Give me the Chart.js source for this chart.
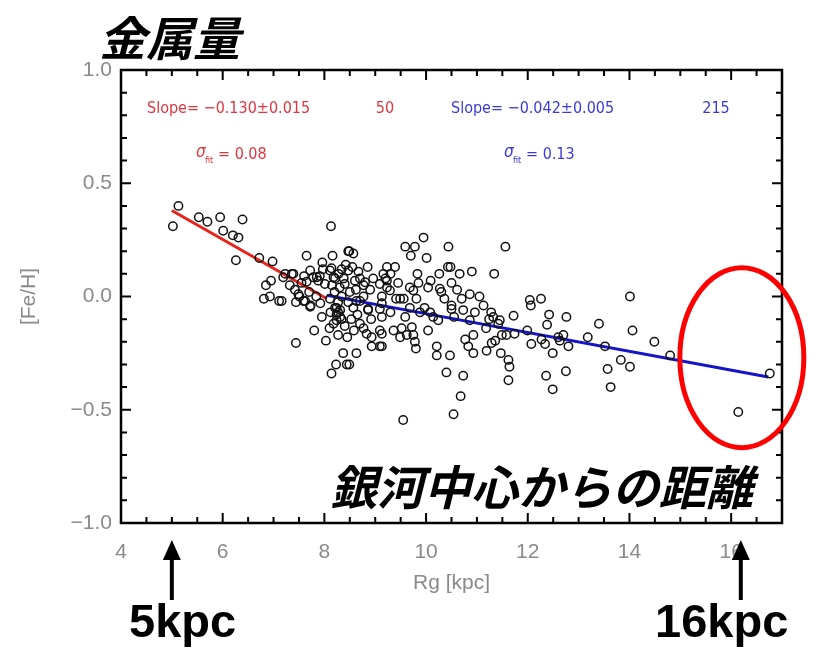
<!DOCTYPE html>
<html><head><meta charset="utf-8">
<script src="https://cdn.jsdelivr.net/npm/chart.js@4"></script>
<style>html,body{margin:0;padding:0;background:#fff}canvas{display:block}</style>
</head><body>
<canvas id="c" width="816" height="651"></canvas>
<script>
// ---- data ----
const rgInner = [5.02,5.13,5.53,5.70,5.95,6.39,6.01,6.20,6.31,6.26,6.72,6.98,7.23,7.19,6.95,6.85,6.81,6.93,7.11,7.36,7.42,7.32,7.51,7.44,7.62,7.72,7.65,7.44,7.80,7.95,7.96,7.72,7.78,7.88,7.91,7.39,7.65,7.85,8.01,7.49,7.59,7.73,7.16,8.03,7.97,7.55,7.70,7.84,7.92,7.60];
const feInner = [0.31,0.40,0.35,0.33,0.35,0.34,0.29,0.27,0.26,0.16,0.17,0.155,0.10,0.085,0.07,0.05,-0.01,0.0,-0.02,0.10,0.03,0.05,0.0,-0.025,-0.02,-0.045,0.18,-0.205,-0.15,-0.09,0.15,0.115,0.085,0.07,0.09,0.10,0.065,0.085,0.055,0.01,-0.02,-0.04,-0.02,-0.195,0.12,0.06,0.02,0.0,-0.03,0.09];

const rgOuter = [8.13,8.16,8.47,8.49,8.57,8.11,8.14,8.18,8.34,8.47,8.67,8.21,8.40,8.60,8.77,8.96,8.70,8.80,8.90,8.77,8.63,8.57,8.86,8.50,8.70,8.86,8.11,8.27,8.21,8.31,8.24,8.34,8.53,8.24,8.27,8.31,8.34,8.47,8.10,8.27,8.77,8.83,8.93,8.93,8.37,8.63,8.49,8.23,8.44,8.14,8.24,8.20,8.15,8.28,8.38,8.42,8.55,8.62,8.30,8.18,8.40,8.12,8.65,8.45,8.70,8.85,8.92,8.58,
9.09,9.23,9.23,9.09,9.09,9.09,9.59,9.78,9.70,10.01,9.95,9.39,9.83,9.23,9.29,9.68,9.75,9.81,9.49,9.41,9.56,9.13,9.13,9.68,9.88,9.59,9.13,9.36,9.49,9.62,9.72,9.75,9.78,9.80,9.13,9.13,9.55,9.20,9.30,9.45,9.52,9.85,9.30,9.97,9.16,
10.44,10.09,10.26,10.48,10.90,10.50,10.04,10.27,10.61,10.86,10.50,10.50,10.73,10.96,10.08,10.14,10.24,10.86,10.04,10.21,10.21,10.47,10.77,10.93,10.83,10.93,10.40,10.73,10.68,10.54,10.43,10.70,10.36,10.55,10.30,10.66,
11.13,11.19,11.56,11.34,11.24,11.45,11.18,11.72,11.74,11.58,11.49,11.36,11.29,11.47,11.62,11.64,11.62,11.99,11.05,11.28,11.32,11.42,
12.04,12.06,12.26,12.42,12.38,12.76,13.40,12.07,12.27,12.34,12.60,12.63,12.70,12.49,12.80,13.18,12.36,12.75,12.49,14.01,14.06,13.52,13.83,14.01,13.57,13.63,14.49,14.80,16.14,16.76];
const feOuter = [0.31,0.18,0.20,0.20,0.19,0.115,0.125,0.085,0.12,0.115,0.11,0.08,0.055,0.07,0.05,0.08,0.08,0.063,0.03,0.0,-0.02,-0.05,-0.055,0.02,-0.02,-0.06,-0.01,-0.025,-0.05,-0.06,-0.08,-0.10,-0.10,-0.105,-0.07,-0.09,0.0,-0.025,-0.14,-0.17,-0.14,-0.165,-0.18,-0.22,-0.25,-0.25,-0.30,-0.30,-0.30,-0.34,-0.05,0.02,0.05,0.10,0.08,0.14,0.13,0.03,0.04,-0.12,-0.13,-0.07,-0.08,-0.18,-0.12,0.13,-0.10,-0.15,
0.055,0.04,0.13,-0.055,-0.15,-0.22,0.22,0.22,0.18,0.17,0.26,0.13,0.10,0.07,0.027,0.04,0.027,-0.01,-0.01,-0.01,-0.01,-0.03,0.0,-0.05,-0.07,-0.09,-0.09,-0.15,-0.18,-0.17,-0.135,-0.17,-0.20,-0.23,-0.165,-0.22,-0.545,0.08,0.10,0.06,-0.14,0.06,-0.07,-0.05,0.10,
0.22,0.07,0.10,0.13,0.11,0.06,0.04,0.034,0.03,0.01,-0.04,-0.055,-0.06,-0.07,-0.07,-0.09,-0.105,-0.105,-0.15,-0.22,-0.26,-0.26,-0.19,-0.17,-0.22,-0.25,-0.335,-0.35,-0.44,-0.52,0.13,-0.01,-0.01,-0.09,0.02,0.10,
-0.04,-0.24,0.22,0.10,-0.10,-0.105,-0.14,-0.085,-0.165,-0.17,-0.17,-0.195,-0.205,-0.25,-0.28,-0.31,-0.37,-0.15,0.0,-0.07,-0.09,-0.12,
-0.015,-0.04,-0.01,-0.08,-0.125,-0.09,-0.12,-0.21,-0.19,-0.21,-0.18,-0.195,-0.17,-0.25,-0.22,-0.18,-0.35,-0.33,-0.41,0.0,-0.15,-0.22,-0.28,-0.31,-0.32,-0.40,-0.20,-0.26,-0.51,-0.34];

const innerFitRg = [5.0, 8.05];
const innerFitFe = [0.38, -0.01];
const outerFitRg = [8.05, 16.73];
const outerFitFe = [0.005, -0.355];

const xTickValues = [4,6,8,10,12,14,16];
const xMinorValues = [4,4.5,5,5.5,6,6.5,7,7.5,8,8.5,9,9.5,10,10.5,11,11.5,12,12.5,13,13.5,14,14.5,15,15.5,16,16.5,17];
const yTickValues = [-1,-0.5,0,0.5,1];
const yTickLabels = ['\u22121.0','\u22120.5','0.0','0.5','1.0'];
const yMinorValues = [-1,-0.9,-0.8,-0.7,-0.6,-0.5,-0.4,-0.3,-0.2,-0.1,0,0.1,0.2,0.3,0.4,0.5,0.6,0.7,0.8,0.9,1];

const innerStats = {slope:'Slope= \u22120.130\u00b10.015', n:'50', sigma:'= 0.08'};
const outerStats = {slope:'Slope= \u22120.042\u00b10.005', n:'215', sigma:'= 0.13'};

const titleText = '金属量';
const distText = '銀河中心からの距離';
const arrowLabels = ['5kpc','16kpc'];
const arrowRg = [5.0, 16.19];

const pts = (xs, ys) => xs.map((x,i)=>({x:x, y:ys[i]}));

const GRAY = '#8a8a8a';
const THIN = '"Liberation Sans", "DejaVu Sans", sans-serif';
const NARROW = '"Liberation Sans Narrow", "DejaVu Sans Condensed", "Liberation Sans", sans-serif';
const CJK = '"Noto Sans CJK JP", "Noto Sans CJK SC", sans-serif';

const overlay = {
  id:'overlay',
  afterDraw(chart){
    const ctx = chart.ctx, a = chart.chartArea, xs = chart.scales.x, ys = chart.scales.y;
    ctx.save();
    // frame
    ctx.strokeStyle = '#000'; ctx.lineWidth = 2.5;
    ctx.strokeRect(a.left, a.top, a.right-a.left, a.bottom-a.top);
    // inward ticks
    ctx.lineWidth = 2;
    ctx.beginPath();
    xMinorValues.forEach(v=>{
      const p = xs.getPixelForValue(v);
      const L = xTickValues.includes(v) ? 10 : 6;
      ctx.moveTo(p, a.bottom); ctx.lineTo(p, a.bottom-L);
      ctx.moveTo(p, a.top); ctx.lineTo(p, a.top+L);
    });
    yMinorValues.forEach(v=>{
      const p = ys.getPixelForValue(v);
      const L = yTickValues.some(t=>Math.abs(t-v)<1e-9) ? 10 : 6;
      ctx.moveTo(a.left, p); ctx.lineTo(a.left+L, p);
      ctx.moveTo(a.right, p); ctx.lineTo(a.right-L, p);
    });
    ctx.stroke();

    // stats text
    ctx.textBaseline = 'middle';
    ctx.font = '16px ' + NARROW;
    ctx.fillStyle = '#e2353f';
    ctx.textAlign = 'left';
    ctx.fillText(innerStats.slope, 147, 109);
    ctx.textAlign = 'center';
    ctx.fillText(innerStats.n, 385, 109);
    ctx.fillStyle = '#3a3ad6';
    ctx.textAlign = 'left';
    ctx.fillText(outerStats.slope, 451, 109);
    ctx.textAlign = 'center';
    ctx.fillText(outerStats.n, 716, 109);
    // sigma fit
    const sig = (x, col, txt) => {
      ctx.fillStyle = col; ctx.textAlign = 'left';
      ctx.font = 'italic 17px ' + NARROW;
      ctx.fillText('\u03c3', x, 153);
      ctx.font = '9px ' + NARROW;
      ctx.fillText('fit', x + 9, 161);
      ctx.font = '16px ' + NARROW;
      ctx.fillText(txt, x + 22, 155);
    };
    sig(196, '#e2353f', innerStats.sigma);
    sig(504, '#3a3ad6', outerStats.sigma);

    // title
    ctx.fillStyle = '#000';
    ctx.textAlign = 'left';
    ctx.font = 'italic bold 47px ' + CJK;
    ctx.fillText(titleText, 99, 38);
    ctx.font = 'italic bold 47px ' + CJK;
    ctx.fillText(distText, 330, 487);

    // arrows
    ctx.strokeStyle = '#000'; ctx.fillStyle = '#000'; ctx.lineWidth = 4;
    arrowRg.forEach(v=>{
      const x = xs.getPixelForValue(v);
      ctx.beginPath(); ctx.moveTo(x, 600); ctx.lineTo(x, 552); ctx.stroke();
      ctx.beginPath(); ctx.moveTo(x, 540); ctx.lineTo(x-9, 560); ctx.lineTo(x+9, 560); ctx.closePath(); ctx.fill();
    });
    ctx.font = 'bold 47px "Liberation Sans", Arial, sans-serif';
    ctx.textAlign = 'left';
    ctx.fillText(arrowLabels[0], 129, 624);
    ctx.fillText(arrowLabels[1], 655, 624);

    // red ellipse
    ctx.strokeStyle = '#ff0000'; ctx.lineWidth = 5;
    ctx.beginPath();
    ctx.ellipse(xs.getPixelForValue(16.21), ys.getPixelForValue(-0.27), 62, 90, 0, 0, Math.PI*2);
    ctx.stroke();
    ctx.restore();
  }
};

const circleStyle = {pointRadius:4.2, pointHoverRadius:4.2, pointStyle:'circle', borderColor:'#111', backgroundColor:'rgba(0,0,0,0)', borderWidth:1.5};

new Chart(document.getElementById('c'), {
  type:'scatter',
  data:{datasets:[
    Object.assign({label:'inner', data:pts(rgInner, feInner)}, circleStyle),
    Object.assign({label:'outer', data:pts(rgOuter, feOuter)}, circleStyle),
    {type:'line', label:'inner fit', data:pts(innerFitRg, innerFitFe), borderColor:'#e8231b', borderWidth:3, pointRadius:0, fill:false},
    {type:'line', label:'outer fit', data:pts(outerFitRg, outerFitFe), borderColor:'#1414c8', borderWidth:3, pointRadius:0, fill:false}
  ]},
  options:{
    responsive:false, animation:false, devicePixelRatio:1,
    layout:{padding:{top:70, right:34, left:0, bottom:0}},
    plugins:{legend:{display:false}, tooltip:{enabled:false}},
    scales:{
      x:{type:'linear', min:4, max:17,
        afterBuildTicks:s=>{ s.ticks = xTickValues.map(v=>({value:v})); },
        afterFit:s=>{ s.height = 128; },
        grid:{display:false, drawTicks:false}, border:{display:false},
        ticks:{color:GRAY, font:{size:21, family:THIN}, padding:17, maxRotation:0, autoSkip:false, callback:v=>String(v)},
        title:{display:true, text:'Rg [kpc]', color:GRAY, font:{size:21, family:THIN}, padding:{top:0, bottom:55}}
      },
      y:{type:'linear', min:-1, max:1,
        afterBuildTicks:s=>{ s.ticks = yTickValues.map(v=>({value:v})); },
        afterFit:s=>{ s.width = 121; },
        grid:{display:false, drawTicks:false}, border:{display:false},
        ticks:{color:GRAY, font:{size:21, family:THIN}, padding:9, callback:(v,i)=>yTickLabels[i]},
        title:{display:true, text:'[Fe/H]', color:GRAY, font:{size:21, family:THIN}, padding:{top:17, bottom:0}}
      }
    }
  },
  plugins:[overlay]
});
</script>
</body></html>
